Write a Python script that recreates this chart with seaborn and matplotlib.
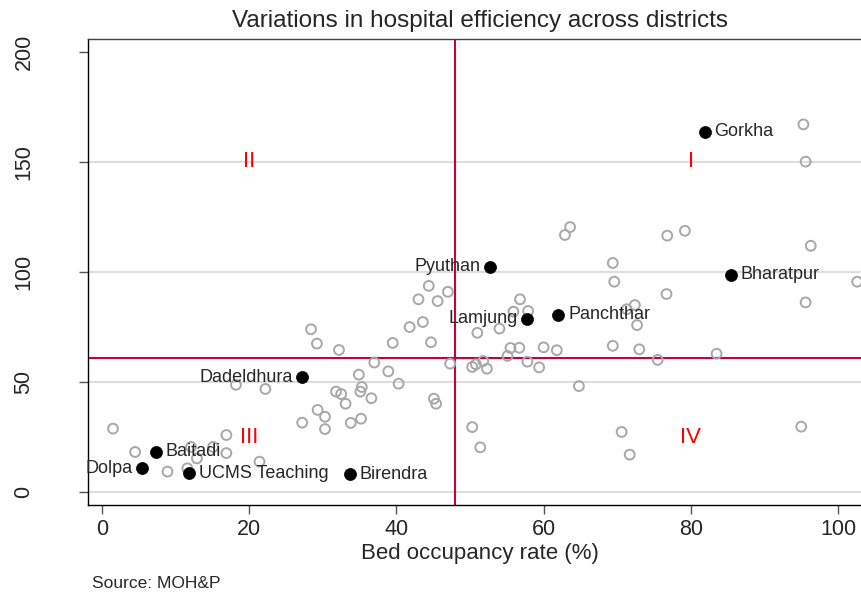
import numpy as np
import pandas as pd
import seaborn as sns
import matplotlib
matplotlib.use("Agg")
import matplotlib.pyplot as plt

# data
gray_x = [28.4, 29.2, 32.2, 37.0, 34.9, 18.2, 22.2, 35.3, 31.8, 32.5, 35.1, 36.6, 33.1, 29.3,
          30.3, 27.2, 30.3, 33.8, 35.2, 1.5, 16.9, 4.5, 12.1, 12.9, 15.1, 16.9, 21.4, 8.9, 11.6,
          44.4, 47.0, 43.0, 45.6, 56.8, 55.9, 57.9, 41.8, 43.6, 51.0, 54.0, 39.5, 44.7, 55.5,
          56.7, 60.0, 61.8, 55.1, 47.3, 50.3, 50.8, 51.8, 52.3, 57.8, 59.4, 38.9, 40.3, 45.1,
          45.4, 50.3, 51.4,
          95.3, 95.6, 63.6, 62.9, 76.8, 79.2, 96.3, 69.4, 69.6, 102.6, 76.7, 95.6, 71.3, 72.4,
          72.7, 69.4, 73.0, 75.5, 83.5, 64.8, 70.6, 71.7, 95.0]
gray_y = [74.0, 67.5, 64.6, 58.9, 53.4, 48.8, 46.9, 47.8, 45.7, 44.6, 45.7, 42.7, 40.2, 37.4,
          34.3, 31.6, 28.7, 31.5, 33.4, 28.9, 26.0, 18.3, 20.6, 15.4, 20.6, 17.8, 13.9, 9.4, 10.9,
          93.7, 91.0, 87.6, 86.8, 87.6, 82.0, 82.3, 75.0, 77.3, 72.4, 74.3, 67.8, 68.1, 65.5,
          65.6, 65.8, 64.5, 61.9, 58.4, 56.9, 58.1, 59.6, 56.1, 59.3, 56.7, 54.9, 49.3, 42.5,
          40.2, 29.6, 20.4,
          167.0, 150.1, 120.4, 116.8, 116.5, 118.7, 111.9, 104.1, 95.6, 95.6, 90.0, 86.2, 83.1, 85.0,
          75.9, 66.5, 64.9, 60.1, 62.9, 48.2, 27.4, 17.1, 29.8]

names = ["Gorkha", "Bharatpur", "Pyuthan", "Lamjung", "Panchthar", "Dadeldhura",
         "Baitadi", "Dolpa", "UCMS Teaching", "Birendra"]
named_x = [81.9, 85.4, 52.7, 57.8, 62.0, 27.2, 7.3, 5.5, 11.8, 33.7]
named_y = [163.7, 98.8, 102.4, 78.7, 80.5, 52.3, 18.3, 10.9, 8.6, 8.3]
left_side = ["Pyuthan", "Lamjung", "Dadeldhura", "Dolpa"]

mean_occ = 48.0
mean_y = 60.8
quadrants = ["I", "II", "III", "IV"]
quad_x = [80, 20, 20, 80]
quad_y = [150, 150, 25, 25]

gray = pd.DataFrame({"x": gray_x, "y": gray_y})
named = pd.DataFrame({"name": names, "x": named_x, "y": named_y})

sns.set_style("white")
plt.rcParams["font.family"] = ["Liberation Sans", "DejaVu Sans"]

W, H = 862, 592
fig = plt.figure(figsize=(W / 100, H / 100), dpi=100)
left, right, top, bottom = 88, 872, 39, 505
ax = fig.add_axes([left / W, 1 - bottom / H, (right - left) / W, (bottom - top) / H])

# grid lines
for g in [0, 50, 100, 150]:
    ax.axhline(g, color="#dddddd", lw=1.5, zorder=0)

ax.axvline(mean_occ, color="#c8003c", lw=1.5, zorder=1)
ax.axhline(mean_y, color="#c8003c", lw=1.5, zorder=1)

sns.scatterplot(data=gray, x="x", y="y", ax=ax, s=50, facecolor="none",
                edgecolor="#a8a8a8", linewidth=1.4, zorder=2)
sns.scatterplot(data=named, x="x", y="y", ax=ax, s=75, color="black",
                edgecolor="black", linewidth=0.5, zorder=3)

for n, x, y in zip(names, named_x, named_y):
    if n in left_side:
        ax.annotate(n, (x, y), xytext=(-7, 0), textcoords="offset points",
                    ha="right", va="center", fontsize=13, zorder=4)
    else:
        ax.annotate(n, (x, y), xytext=(7, 0), textcoords="offset points",
                    ha="left", va="center", fontsize=13, zorder=4)

for q, x, y in zip(quadrants, quad_x, quad_y):
    ax.text(x, y, q, color="red", fontsize=16, ha="center", va="center")

ax.set_xlim(-1.9, (right - 102) / 7.36)
ax.set_ylim((492.3 - bottom) / 2.203, (492.3 - top) / 2.203)
ax.set_xticks([0, 20, 40, 60, 80, 100])
ax.set_yticks([0, 50, 100, 150, 200])
ax.tick_params(axis="both", direction="out", length=6.5, width=1, color="#555555",
               labelsize=15.5, bottom=True, left=True)
ax.tick_params(axis="y", pad=32)
for lab in ax.get_yticklabels():
    lab.set_rotation(90)
    lab.set_va("center")

for s in ["left", "bottom"]:
    ax.spines[s].set_color("black")
    ax.spines[s].set_linewidth(1)
ax.spines["top"].set_color("#444444")
ax.spines["top"].set_linewidth(1)
ax.spines["right"].set_visible(False)

ax.set_xlabel("Bed occupancy rate (%)", fontsize=16, labelpad=2)
ax.set_ylabel("")

fig.text(480 / W, 1 - 21 / H, "Variations in hospital efficiency across districts",
         ha="center", va="center", fontsize=17.5)
fig.text(92 / W, 1 - 588 / H, "Source: MOH&P", ha="left", va="baseline", fontsize=12.5)

fig.savefig("out.png", dpi=100)
